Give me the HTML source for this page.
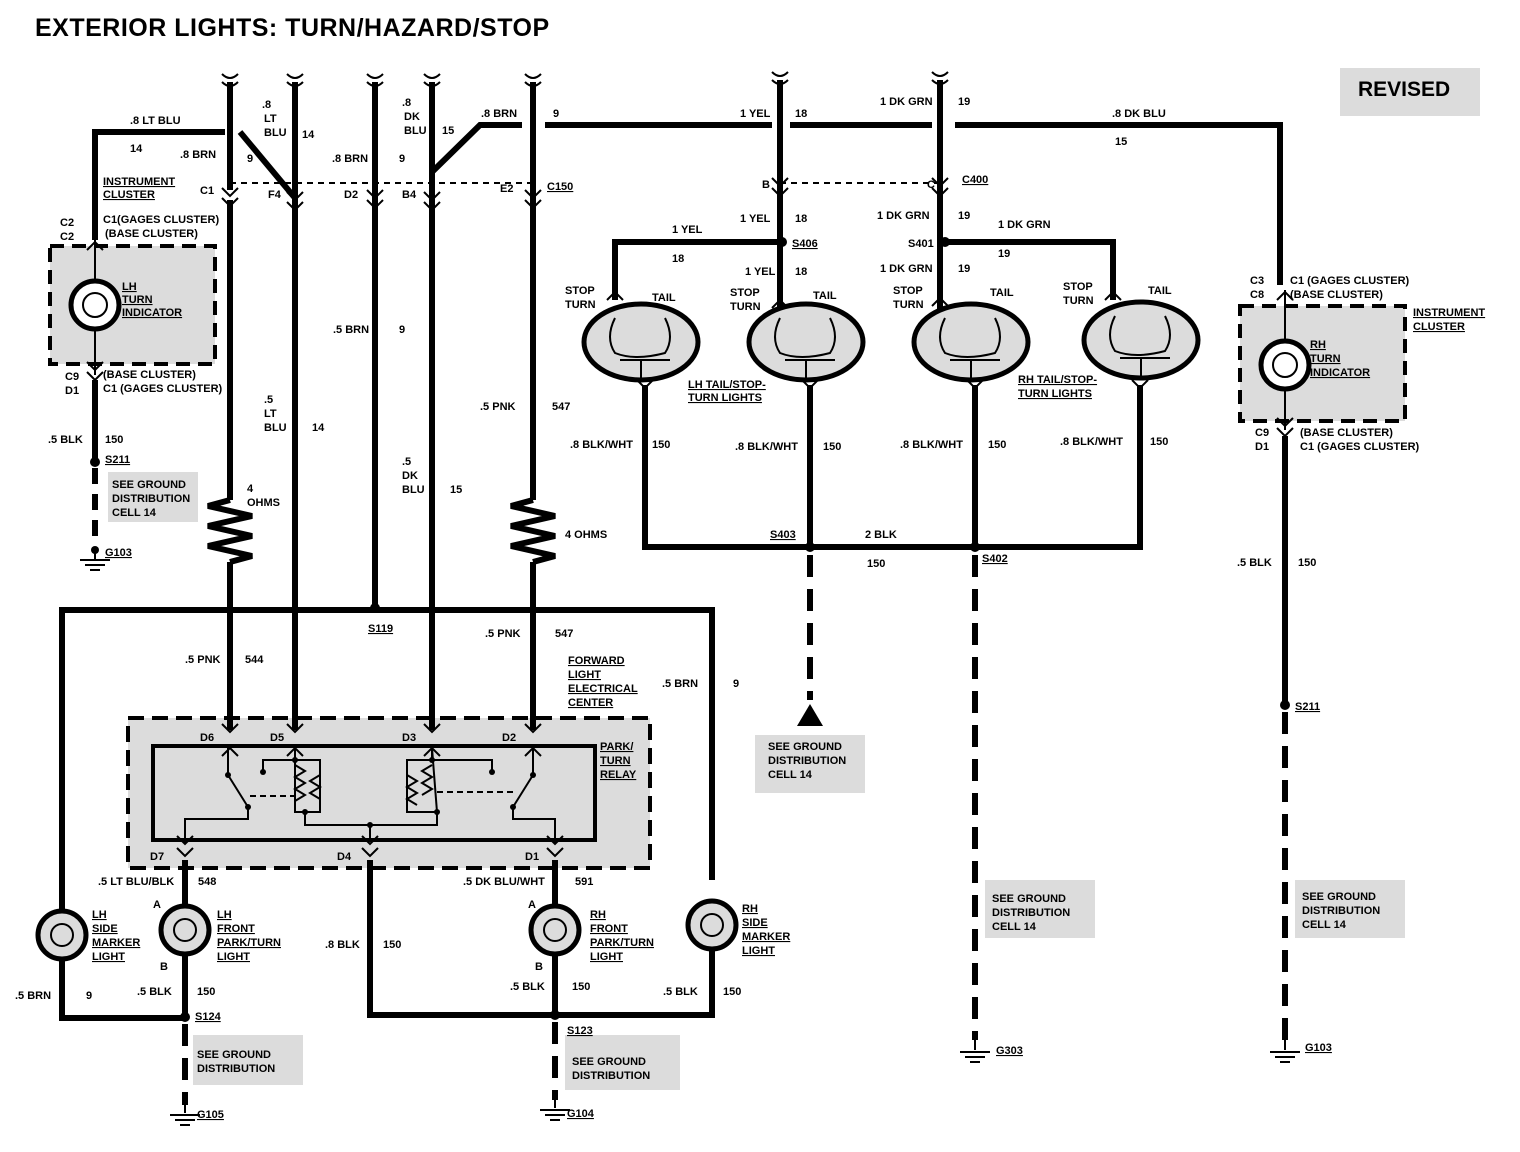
<!DOCTYPE html>
<html><head><meta charset="utf-8"><style>
html,body{margin:0;padding:0;background:#fff}
svg{display:block}
text{font-family:"Liberation Sans",sans-serif;font-size:11px;font-weight:bold;fill:#000}
.w{stroke:#000;stroke-width:6;fill:none}
.t{stroke:#000;stroke-width:2;fill:none}
.d{stroke:#000;stroke-width:6;fill:none;stroke-dasharray:22 12}
.g{fill:#dcdcdc}
.u{text-decoration:underline}
</style></head><body>
<svg width="1520" height="1152" viewBox="0 0 1520 1152" xmlns="http://www.w3.org/2000/svg">
<text x="35" y="36" style="font-size:25px;letter-spacing:0.5px">EXTERIOR LIGHTS: TURN/HAZARD/STOP</text>
<rect class="g" x="1340" y="68" width="140" height="48"/>
<text x="1358" y="96" style="font-size:21px">REVISED</text>

<!-- shaded label areas -->
<rect class="g" x="108" y="472" width="90" height="50"/>
<rect class="g" x="755" y="735" width="110" height="58"/>
<rect class="g" x="985" y="880" width="110" height="58"/>
<rect class="g" x="1295" y="880" width="110" height="58"/>
<rect class="g" x="193" y="1035" width="110" height="50"/>
<rect class="g" x="565" y="1035" width="115" height="55"/>
<rect class="g" x="50" y="246" width="165" height="118"/>
<rect class="g" x="1240" y="306" width="165" height="115"/>
<rect class="g" x="128" y="718" width="522" height="150"/>

<!-- top break marks -->
<g class="t">
<path d="M222 74 q8 8 16 0M222 82 q8 8 16 0"/>
<path d="M287 74 q8 8 16 0M287 82 q8 8 16 0"/>
<path d="M367 74 q8 8 16 0M367 82 q8 8 16 0"/>
<path d="M424 74 q8 8 16 0M424 82 q8 8 16 0"/>
<path d="M525 74 q8 8 16 0M525 82 q8 8 16 0"/>
<path d="M772 72 q8 8 16 0M772 80 q8 8 16 0"/>
<path d="M932 72 q8 8 16 0M932 80 q8 8 16 0"/>
</g>

<!-- main verticals -->
<path class="w" d="M230 82V190M230 200V500M230 562V730"/>
<path class="w" d="M295 82V730"/>
<path class="w" d="M375 82V610"/>
<path class="w" d="M432 82V730"/>
<path class="w" d="M533 82V500M533 562V730"/>
<path class="w" d="M780 80V310"/>
<path class="w" d="M940 80V310"/>
<path class="w" d="M545 125H772M790 125H932M955 125H1280V285"/>
<path class="w" d="M225 132H95V240"/>
<path class="w" d="M240 132L295 198"/>
<path class="w" d="M432 172L480 125H522"/>
<path class="t" d="M230 183H533M780 183H940" stroke-dasharray="6 5"/>

<!-- resistors -->
<path class="w" d="M230 500l-22 6 44 10-44 10 44 10-44 10 44 10-22 6"/>
<path class="w" d="M533 500l-22 6 44 10-44 10 44 10-44 10 44 10-22 6"/>

<!-- connector chevrons -->
<g class="t" stroke-width="3">
<path d="M222 188l8 8 8-8M222 198l8 8 8-8"/>
<path d="M287 192l8 8 8-8M287 202l8 8 8-8"/>
<path d="M367 190l8 8 8-8M367 200l8 8 8-8"/>
<path d="M424 192l8 8 8-8M424 202l8 8 8-8"/>
<path d="M525 190l8 8 8-8M525 200l8 8 8-8"/>
<path d="M772 178l8 8 8-8M772 188l8 8 8-8"/>
<path d="M932 178l8 8 8-8M932 188l8 8 8-8"/>
</g>

<!-- LH indicator -->
<rect x="50" y="246" width="165" height="118" fill="none" stroke="#000" stroke-width="4" stroke-dasharray="14 8"/>
<path class="t" d="M95 240V280M95 330V375M87 250l8-8 8 8M87 362l8 8 8-8M87 372l8 8 8-8"/>
<circle cx="95" cy="305" r="24" fill="#fff" stroke="#000" stroke-width="5"/>
<circle cx="95" cy="305" r="12" fill="none" stroke="#000" stroke-width="2"/>
<path class="w" d="M95 380V462"/>
<circle cx="95" cy="462" r="5"/>
<path class="w" d="M95 468V545" stroke-dasharray="16 10"/>
<circle cx="95" cy="550" r="4"/>
<path class="t" d="M80 560h30M85 565h20M90 570h10M95 550v10"/>

<!-- Tail light section -->
<path class="w" d="M780 242H615V300M945 242H1113V300"/>
<circle cx="782" cy="242" r="5"/><circle cx="945" cy="242" r="5"/>
<g class="t" stroke-width="3">
<path d="M607 300l8-8 8 8M772 308l8-8 8 8M932 306l8-8 8 8M1105 300l8-8 8 8"/>
</g>
<g>
<ellipse cx="641" cy="342" rx="57" ry="38" class="g" stroke="#000" stroke-width="5"/>
<ellipse cx="806" cy="342" rx="57" ry="38" class="g" stroke="#000" stroke-width="5"/>
<ellipse cx="971" cy="342" rx="57" ry="38" class="g" stroke="#000" stroke-width="5"/>
<ellipse cx="1141" cy="340" rx="57" ry="38" class="g" stroke="#000" stroke-width="5"/>
</g>
<g class="t">
<path d="M615 318q-10 20 0 35 20 8 50 0 10-15 0-35M620 360h50M641 360v18"/>
<path d="M780 318q-10 20 0 35 20 8 50 0 10-15 0-35M785 360h50M806 360v18"/>
<path d="M945 318q-10 20 0 35 20 8 50 0 10-15 0-35M950 360h50M971 360v18"/>
<path d="M1115 316q-10 20 0 35 20 8 50 0 10-15 0-35M1120 358h50M1141 358v18"/>
</g>
<path class="w" d="M645 385V547H1140V385M810 385V547M975 385V547"/>
<g class="t" stroke-width="3">
<path d="M637 380l8 8 8-8M802 380l8 8 8-8M967 380l8 8 8-8M1132 380l8 8 8-8"/>
</g>
<circle cx="810" cy="547" r="5"/><circle cx="975" cy="547" r="5"/>
<path class="d" d="M810 555V700"/>
<path d="M797 726l13-22 13 22z"/>
<path class="d" d="M975 555V1040"/>
<path class="t" d="M975 1040v10M960 1052h30M965 1057h20M970 1062h10"/>

<!-- RH indicator -->
<rect x="1240" y="306" width="165" height="115" fill="none" stroke="#000" stroke-width="4" stroke-dasharray="14 8"/>
<path class="t" d="M1285 290V340M1285 390V430M1277 300l8-8 8 8M1277 418l8 8 8-8M1277 428l8 8 8-8"/>
<circle cx="1285" cy="365" r="24" fill="#fff" stroke="#000" stroke-width="5"/>
<circle cx="1285" cy="365" r="12" fill="none" stroke="#000" stroke-width="2"/>
<path class="w" d="M1285 436V705"/>
<circle cx="1285" cy="705" r="5"/>
<path class="d" d="M1285 712V1040"/>
<path class="t" d="M1285 1040v10M1270 1052h30M1275 1057h20M1280 1062h10"/>

<!-- bottom section -->
<path class="w" d="M62 910V610H712V880"/>
<circle cx="375" cy="608" r="5"/>
<path class="w" d="M62 960V1018H185M712 950V1015H370V860M555 860V1015M185 860V1018"/>
<circle cx="185" cy="1017" r="5"/><circle cx="555" cy="1015" r="5"/>
<path class="d" d="M185 1024V1105"/>
<path class="d" d="M555 1022V1100"/>
<path class="t" d="M185 1105v8M170 1115h30M175 1120h20M180 1125h10"/>
<path class="t" d="M555 1100v8M540 1110h30M545 1115h20M550 1120h10"/>
<g>
<circle cx="62" cy="935" r="24" class="g" stroke="#000" stroke-width="5"/>
<circle cx="185" cy="930" r="24" class="g" stroke="#000" stroke-width="5"/>
<circle cx="555" cy="930" r="24" class="g" stroke="#000" stroke-width="5"/>
<circle cx="712" cy="925" r="24" class="g" stroke="#000" stroke-width="5"/>
</g>
<g class="t">
<circle cx="62" cy="935" r="11"/><circle cx="185" cy="930" r="11"/><circle cx="555" cy="930" r="11"/><circle cx="712" cy="925" r="11"/>
</g>

<!-- FLEC / relay -->
<rect x="128" y="718" width="522" height="150" fill="none" stroke="#000" stroke-width="4" stroke-dasharray="16 8"/>
<rect x="153" y="746" width="442" height="94" fill="none" stroke="#000" stroke-width="4"/>
<g class="t" stroke-width="3">
<path d="M222 724l8 8 8-8M287 724l8 8 8-8M424 724l8 8 8-8M525 724l8 8 8-8"/>
<path d="M222 756l8-8 8 8M287 756l8-8 8 8M424 756l8-8 8 8M525 756l8-8 8 8"/>
<path d="M177 848l8 8 8-8M362 848l8 8 8-8M547 848l8 8 8-8"/>
<path d="M177 836l8 8 8-8M362 836l8 8 8-8M547 836l8 8 8-8"/>
</g>
<g class="t">
<path d="M228 748V775l20 32v12H185v24"/>
<path d="M295 748V760h25v52h-25zM263 772v-12h32"/>
<path d="M295 765l10 6-10 6 10 6-10 6 10 6-10 6M320 775l-10 6 10 6-10 6 10 6"/>
<path d="M432 748V760h-25v52h30zM432 760h60v12"/>
<path d="M407 775l10 6-10 6 10 6-10 6 10 6M432 765l-10 6 10 6-10 6 10 6-10 6"/>
<path d="M533 748V775l-20 32v12h42v24"/>
<path d="M305 812V825h132V812M370 825V842"/>
<path d="M250 796h45M437 792h80" stroke-dasharray="6 4"/>
</g>
<g>
<circle cx="228" cy="775" r="3"/><circle cx="248" cy="807" r="3"/><circle cx="263" cy="772" r="3"/>
<circle cx="295" cy="760" r="3"/><circle cx="305" cy="812" r="3"/><circle cx="432" cy="760" r="3"/>
<circle cx="437" cy="812" r="3"/><circle cx="492" cy="772" r="3"/><circle cx="533" cy="775" r="3"/>
<circle cx="513" cy="807" r="3"/><circle cx="370" cy="825" r="3"/>
</g>

<!-- labels -->
<g>
<text x="130" y="124">.8 LT BLU</text><text x="130" y="152">14</text><text x="180" y="158">.8 BRN</text>
<text x="247" y="162">9</text>
<text x="262" y="108">.8</text><text x="264" y="122">LT</text><text x="264" y="136">BLU</text><text x="302" y="138">14</text>
<text x="332" y="162">.8 BRN</text><text x="399" y="162">9</text>
<text x="402" y="106">.8</text><text x="404" y="120">DK</text><text x="404" y="134">BLU</text><text x="442" y="134">15</text>
<text x="481" y="117">.8 BRN</text><text x="553" y="117">9</text>
<text x="103" y="185" class="u">INSTRUMENT</text><text x="103" y="198" class="u">CLUSTER</text>
<text x="200" y="194">C1</text><text x="268" y="198">F4</text><text x="344" y="198">D2</text><text x="402" y="198">B4</text>
<text x="500" y="192">E2</text><text x="547" y="190" class="u">C150</text>
<text x="60" y="226">C2</text><text x="60" y="240">C2</text>
<text x="103" y="223">C1(GAGES CLUSTER)</text><text x="105" y="237">(BASE CLUSTER)</text>
<text x="122" y="290" class="u">LH</text><text x="122" y="303" class="u">TURN</text><text x="122" y="316" class="u">INDICATOR</text>
<text x="65" y="380">C9</text><text x="65" y="394">D1</text>
<text x="103" y="378">(BASE CLUSTER)</text><text x="103" y="392">C1 (GAGES CLUSTER)</text>
<text x="48" y="443">.5 BLK</text><text x="105" y="443">150</text>
<text x="105" y="463" class="u">S211</text>
<text x="112" y="488">SEE GROUND</text><text x="112" y="502">DISTRIBUTION</text><text x="112" y="516">CELL 14</text>
<text x="105" y="556" class="u">G103</text>
<text x="333" y="333">.5 BRN</text><text x="399" y="333">9</text>
<text x="264" y="403">.5</text><text x="264" y="417">LT</text><text x="264" y="431">BLU</text><text x="312" y="431">14</text>
<text x="247" y="492">4</text><text x="247" y="506">OHMS</text>
<text x="402" y="465">.5</text><text x="402" y="479">DK</text><text x="402" y="493">BLU</text><text x="450" y="493">15</text>
<text x="480" y="410">.5 PNK</text><text x="552" y="410">547</text>
<text x="565" y="538">4 OHMS</text>
<text x="368" y="632" class="u">S119</text>
<text x="185" y="663">.5 PNK</text><text x="245" y="663">544</text>
<text x="485" y="637">.5 PNK</text><text x="555" y="637">547</text>
<text x="568" y="664" class="u">FORWARD</text><text x="568" y="678" class="u">LIGHT</text><text x="568" y="692" class="u">ELECTRICAL</text><text x="568" y="706" class="u">CENTER</text>
<text x="662" y="687">.5 BRN</text><text x="733" y="687">9</text>
<text x="200" y="741">D6</text><text x="270" y="741">D5</text><text x="402" y="741">D3</text><text x="502" y="741">D2</text>
<text x="600" y="750" class="u">PARK/</text><text x="600" y="764" class="u">TURN</text><text x="600" y="778" class="u">RELAY</text>
<text x="150" y="860">D7</text><text x="337" y="860">D4</text><text x="525" y="860">D1</text>
<text x="98" y="885">.5 LT BLU/BLK</text><text x="198" y="885">548</text>
<text x="463" y="885">.5 DK BLU/WHT</text><text x="575" y="885">591</text>
<text x="153" y="908">A</text><text x="160" y="970">B</text><text x="528" y="908">A</text><text x="535" y="970">B</text>
<text x="92" y="918" class="u">LH</text><text x="92" y="932" class="u">SIDE</text><text x="92" y="946" class="u">MARKER</text><text x="92" y="960" class="u">LIGHT</text>
<text x="217" y="918" class="u">LH</text><text x="217" y="932" class="u">FRONT</text><text x="217" y="946" class="u">PARK/TURN</text><text x="217" y="960" class="u">LIGHT</text>
<text x="590" y="918" class="u">RH</text><text x="590" y="932" class="u">FRONT</text><text x="590" y="946" class="u">PARK/TURN</text><text x="590" y="960" class="u">LIGHT</text>
<text x="742" y="912" class="u">RH</text><text x="742" y="926" class="u">SIDE</text><text x="742" y="940" class="u">MARKER</text><text x="742" y="954" class="u">LIGHT</text>
<text x="325" y="948">.8 BLK</text><text x="383" y="948">150</text>
<text x="15" y="999">.5 BRN</text><text x="86" y="999">9</text>
<text x="137" y="995">.5 BLK</text><text x="197" y="995">150</text>
<text x="510" y="990">.5 BLK</text><text x="572" y="990">150</text>
<text x="663" y="995">.5 BLK</text><text x="723" y="995">150</text>
<text x="195" y="1020" class="u">S124</text><text x="567" y="1034" class="u">S123</text>
<text x="197" y="1058">SEE GROUND</text><text x="197" y="1072">DISTRIBUTION</text>
<text x="572" y="1065">SEE GROUND</text><text x="572" y="1079">DISTRIBUTION</text>
<text x="197" y="1118" class="u">G105</text><text x="567" y="1117" class="u">G104</text>
<text x="740" y="117">1 YEL</text><text x="795" y="117">18</text>
<text x="880" y="105">1 DK GRN</text><text x="958" y="105">19</text>
<text x="1112" y="117">.8 DK BLU</text><text x="1115" y="145">15</text>
<text x="762" y="188">B</text><text x="927" y="188">C</text><text x="962" y="183" class="u">C400</text>
<text x="740" y="222">1 YEL</text><text x="795" y="222">18</text>
<text x="877" y="219">1 DK GRN</text><text x="958" y="219">19</text>
<text x="672" y="233">1 YEL</text><text x="672" y="262">18</text>
<text x="792" y="247" class="u">S406</text><text x="908" y="247">S401</text>
<text x="998" y="228">1 DK GRN</text><text x="998" y="257">19</text>
<text x="745" y="275">1 YEL</text><text x="795" y="275">18</text>
<text x="880" y="272">1 DK GRN</text><text x="958" y="272">19</text>
<text x="565" y="294">STOP</text><text x="565" y="308">TURN</text><text x="652" y="301">TAIL</text>
<text x="730" y="296">STOP</text><text x="730" y="310">TURN</text><text x="813" y="299">TAIL</text>
<text x="893" y="294">STOP</text><text x="893" y="308">TURN</text><text x="990" y="296">TAIL</text>
<text x="1063" y="290">STOP</text><text x="1063" y="304">TURN</text><text x="1148" y="294">TAIL</text>
<text x="688" y="388" class="u">LH TAIL/STOP-</text><text x="688" y="401" class="u">TURN LIGHTS</text>
<text x="1018" y="383" class="u">RH TAIL/STOP-</text><text x="1018" y="397" class="u">TURN LIGHTS</text>
<text x="570" y="448">.8 BLK/WHT</text><text x="652" y="448">150</text>
<text x="735" y="450">.8 BLK/WHT</text><text x="823" y="450">150</text>
<text x="900" y="448">.8 BLK/WHT</text><text x="988" y="448">150</text>
<text x="1060" y="445">.8 BLK/WHT</text><text x="1150" y="445">150</text>
<text x="770" y="538" class="u">S403</text><text x="865" y="538">2 BLK</text>
<text x="867" y="567">150</text><text x="982" y="562" class="u">S402</text>
<text x="768" y="750">SEE GROUND</text><text x="768" y="764">DISTRIBUTION</text><text x="768" y="778">CELL 14</text>
<text x="992" y="902">SEE GROUND</text><text x="992" y="916">DISTRIBUTION</text><text x="992" y="930">CELL 14</text>
<text x="996" y="1054" class="u">G303</text>
<text x="1250" y="284">C3</text><text x="1250" y="298">C8</text>
<text x="1290" y="284">C1 (GAGES CLUSTER)</text><text x="1290" y="298">(BASE CLUSTER)</text>
<text x="1413" y="316" class="u">INSTRUMENT</text><text x="1413" y="330" class="u">CLUSTER</text>
<text x="1310" y="348" class="u">RH</text><text x="1310" y="362" class="u">TURN</text><text x="1310" y="376" class="u">INDICATOR</text>
<text x="1255" y="436">C9</text><text x="1255" y="450">D1</text>
<text x="1300" y="436">(BASE CLUSTER)</text><text x="1300" y="450">C1 (GAGES CLUSTER)</text>
<text x="1237" y="566">.5 BLK</text><text x="1298" y="566">150</text>
<text x="1295" y="710" class="u">S211</text>
<text x="1302" y="900">SEE GROUND</text><text x="1302" y="914">DISTRIBUTION</text><text x="1302" y="928">CELL 14</text>
<text x="1305" y="1051" class="u">G103</text>
</g>
</svg>
</body></html>
